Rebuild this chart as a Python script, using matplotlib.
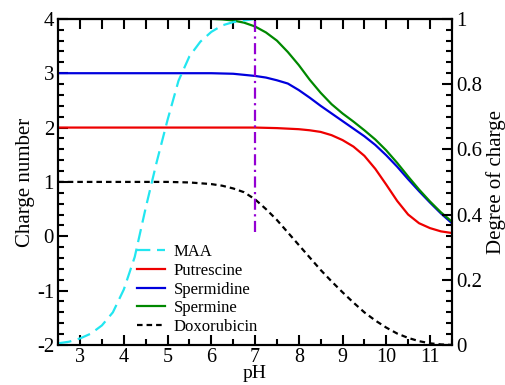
import numpy as np
import matplotlib
matplotlib.use('Agg')
import matplotlib.pyplot as plt
from matplotlib.ticker import MultipleLocator, FuncFormatter

plt.rcParams['font.family'] = ['Liberation Serif', 'DejaVu Serif']
plt.rcParams['axes.unicode_minus'] = False

# MAA, degree of charge (right axis)
ph_maa = [2.5, 2.75, 3.0, 3.25, 3.5, 3.75, 4.0, 4.25, 4.5, 4.75, 5.0, 5.25,
          5.5, 5.75, 6.0, 6.25, 6.5, 7.0, 8.0]
maa = [0.005, 0.01, 0.02, 0.035, 0.06, 0.1, 0.17, 0.27, 0.42, 0.56, 0.69, 0.81,
       0.885, 0.93, 0.96, 0.98, 0.99, 1.0, 1.0]

# charge numbers (left axis)
ph_put = [2.5, 7.0, 7.5, 8.0, 8.25, 8.5, 8.75, 9.0, 9.25, 9.5, 9.75, 10.0,
          10.25, 10.5, 10.75, 11.0, 11.25, 11.5]
putrescine = [2.0, 2.0, 1.99, 1.97, 1.95, 1.92, 1.86, 1.77, 1.65, 1.48, 1.24, 0.95,
              0.65, 0.4, 0.24, 0.15, 0.09, 0.06]

ph_spd = [2.5, 6.0, 6.5, 7.0, 7.25, 7.5, 7.75, 8.0, 8.25, 8.5, 8.75, 9.0, 9.25,
          9.5, 9.75, 10.0, 10.25, 10.5, 10.75, 11.0, 11.25, 11.5]
spermidine = [3.0, 3.0, 2.99, 2.95, 2.92, 2.87, 2.81, 2.69, 2.55, 2.4, 2.26, 2.12, 1.98,
              1.84, 1.68, 1.49, 1.28, 1.05, 0.83, 0.62, 0.42, 0.24]

ph_spm = [2.5, 6.0, 6.25, 6.5, 6.75, 7.0, 7.25, 7.5, 7.75, 8.0, 8.25, 8.5, 8.75,
          9.0, 9.25, 9.5, 9.75, 10.0, 10.25, 10.5, 10.75, 11.0, 11.25, 11.5]
spermine = [4.0, 4.0, 3.99, 3.97, 3.93, 3.86, 3.75, 3.6, 3.39, 3.15, 2.88, 2.64, 2.43,
            2.26, 2.11, 1.95, 1.78, 1.58, 1.35, 1.1, 0.86, 0.64, 0.44, 0.27]

ph_dox = [2.5, 5.0, 5.5, 6.0, 6.25, 6.5, 6.75, 7.0, 7.25, 7.5, 7.75, 8.0, 8.25,
          8.5, 8.75, 9.0, 9.25, 9.5, 9.75, 10.0, 10.25, 10.5, 10.75, 11.0, 11.25, 11.5]
doxorubicin = [1.0, 1.0, 0.99, 0.96, 0.93, 0.88, 0.81, 0.68, 0.5, 0.3, 0.07, -0.16, -0.39,
               -0.62, -0.83, -1.03, -1.22, -1.4, -1.55, -1.68, -1.79, -1.87, -1.93, -1.97,
               -1.99, -2.0]

# physiological pH marker
ph_mark = [7.0, 7.0]
mark_y = [0.07, 4.0]

fig = plt.figure(figsize=(5.06, 3.85), dpi=100)
ax = fig.add_axes([0.115, 0.104, 0.778, 0.847])
ax2 = ax.twinx()

lw = 1.6
ax2.plot(ph_maa, maa, color='#22E6F0', lw=lw, dashes=(6, 3), label='MAA')
ax.plot(ph_put, putrescine, color='#EE0000', lw=lw, label='Putrescine')
ax.plot(ph_spd, spermidine, color='#0000DD', lw=lw, label='Spermidine')
ax.plot(ph_spm, spermine, color='#008800', lw=lw, label='Spermine')
ax.plot(ph_dox, doxorubicin, color='black', lw=lw, dashes=(2.5, 1.8), label='Doxorubicin')
ax.plot(ph_mark, mark_y, color='#9400D3', lw=lw, dashes=(5, 2, 1, 2))

ax.set_xlim(2.5, 11.5)
ax.set_ylim(-2, 4)
ax2.set_ylim(0, 1)

ax.xaxis.set_major_locator(MultipleLocator(1))
ax.xaxis.set_minor_locator(MultipleLocator(0.5))
ax.yaxis.set_major_locator(MultipleLocator(1))
ax.yaxis.set_minor_locator(MultipleLocator(0.2))
ax2.yaxis.set_major_locator(MultipleLocator(0.2))
ax2.yaxis.set_minor_locator(MultipleLocator(1 / 30))
ax2.yaxis.set_major_formatter(FuncFormatter(lambda v, p: '%g' % round(v, 2)))

for a in (ax, ax2):
    a.tick_params(which='major', direction='in', length=7, width=1.5, labelsize=15, pad=3)
    a.tick_params(which='minor', direction='in', length=4, width=1.5)
    for s in a.spines.values():
        s.set_linewidth(1.5)
ax.tick_params(axis='y', which='both', right=False)
ax.tick_params(axis='x', which='major', pad=2, labelsize=14.5)

top = ax.secondary_xaxis('top')
top.xaxis.set_major_locator(MultipleLocator(0.5))
top.tick_params(direction='in', length=7, width=1.5, labeltop=False)
top.spines['top'].set_linewidth(1.5)

ax.set_xlabel('pH', fontsize=14, labelpad=-1)
ax.set_ylabel('Charge number', fontsize=15, labelpad=1)
ax2.set_ylabel('Degree of charge', fontsize=15, labelpad=3)

h1, l1 = ax2.get_legend_handles_labels()
h2, l2 = ax.get_legend_handles_labels()
ax.legend(h1 + h2, l1 + l2, loc='lower left', bbox_to_anchor=(0.17, -0.005),
          frameon=False, fontsize=12, handlelength=1.7, handletextpad=0.5,
          labelspacing=0.16, borderaxespad=0.3)

fig.savefig('out.png', dpi=100)
